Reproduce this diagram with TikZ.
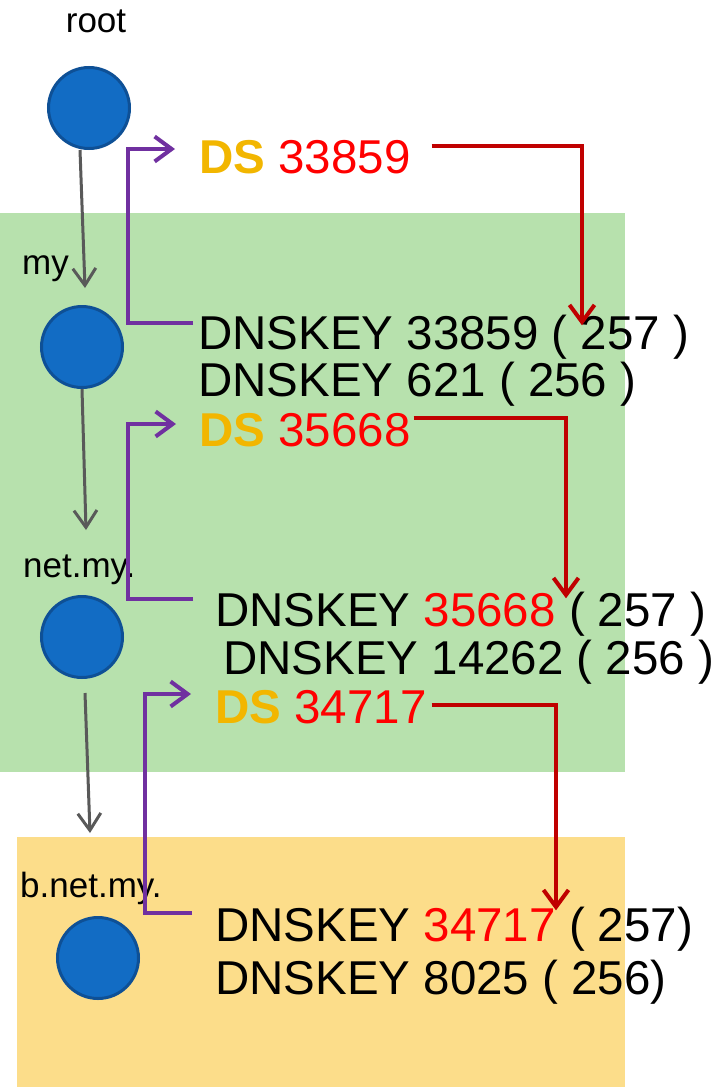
\documentclass[tikz,border=0pt]{standalone}
\usepackage{fontspec}
\setmainfont{Liberation Sans}
\usepackage{xcolor}
\usepackage{tikz}
\usetikzlibrary{arrows.meta,calc}
\definecolor{zonegreen}{RGB}{183,225,173}
\definecolor{zoneyellow}{RGB}{252,221,138}
\definecolor{nodeblue}{RGB}{18,108,196}
\definecolor{nodeedge}{RGB}{14,80,150}
\definecolor{chaingray}{RGB}{89,89,89}
\definecolor{signpurple}{RGB}{112,48,160}
\definecolor{hashred}{RGB}{192,0,0}
\definecolor{keyred}{RGB}{255,0,0}
\definecolor{dsgold}{RGB}{242,182,0}

\begin{document}
\begin{tikzpicture}[x=1pt, y=-1pt,
    zone/.style={circle, draw=nodeedge, fill=nodeblue, line width=3pt, minimum size=81pt, inner sep=0pt},
    zonename/.style={font=\fontsize{35}{40}\selectfont, inner sep=0pt, text height=18pt, text depth=0pt},
    rec/.style={font=\fontsize{47.5}{52}\selectfont, inner sep=0pt, anchor=west, text height=33pt, text depth=0pt},
    chain/.style={draw=chaingray, line width=3pt, -{Straight Barb[length=17pt, width=23pt]}},
    signs/.style={draw=signpurple, line width=4pt, -{Straight Barb[length=17pt, width=25pt]}},
    hashes/.style={draw=hashred, line width=4pt, -{Straight Barb[length=17pt, width=25pt]}}]
    \useasboundingbox (0,0) rectangle (716,1087);
    \fill[white] (0,0) rectangle (716,1087);

    % Zone backgrounds
    \fill[zonegreen] (0,213) rectangle (625,772);
    \fill[zoneyellow] (17,837) rectangle (625,1087);

    % Zone names and nodes
    \node[zonename] (nroot) at (96,23) {root};
    \node[zonename, anchor=west] (nmy) at (22,265) {my};
    \node[zonename, anchor=west] (nnet) at (23,568) {net.my.};
    \node[zonename, anchor=west] (nb) at (20,888) {b.net.my.};
    \node[zone] (c0) at (89,108) {};
    \node[zone] (c1) at (82,347) {};
    \node[zone] (c2) at (82,637) {};
    \node[zone] (c3) at (98,958) {};

    % Records
    \node[rec] (ds1) at (199,157) {\textbf{\color{dsgold}DS} \color{keyred}33859};
    \node[rec] (key1a) at (198,333) {DNSKEY 33859 ( 257 )};
    \node[rec] (key1b) at (198,380) {DNSKEY 621 ( 256 )};
    \node[rec] (ds2) at (199,430) {\textbf{\color{dsgold}DS} \color{keyred}35668};
    \node[rec] (key2a) at (215,610) {DNSKEY {\color{keyred}35668} ( 257 )};
    \node[rec] (key2b) at (223,658) {DNSKEY 14262 ( 256 )};
    \node[rec] (ds3) at (215,707) {\textbf{\color{dsgold}DS} \color{keyred}34717};
    \node[rec] (key3a) at (215,925) {DNSKEY {\color{keyred}34717} ( 257)};
    \node[rec] (key3b) at (215,978) {DNSKEY 8025 ( 256)};

    % Delegation chain
    \draw[chain] ($(c0.south)+(-9,0)$) -- ($(c1.north)+(3,-17)$);
    \draw[chain] (c1.south) -- ($(c2.north)+(4,-65)$);
    \draw[chain] ($(c2.south)+(3,14)$) -- ($(c3.north)+(-8,-83)$);

    % KSK signs DS
    \draw[signs] ([shift={(-5,-10)}]key1a.west) -- ++(-65,0) |- ([shift={(-24,-8)}]ds1.west);
    \draw[signs] ([shift={(-22,-11)}]key2a.west) -- ++(-65,0) |- ([shift={(-23,-6)}]ds2.west);
    \draw[signs] ([shift={(-23,-12)}]key3a.west) -- ++(-47,0) |- ([shift={(-24,-13)}]ds3.west);

    % DS hashes KSK
    \draw[hashes] ([shift={(21,-11)}]ds1.east) -| ($(key1a.north west)+(384,9)$);
    \draw[hashes] ([shift={(3,-12)}]ds2.east) -| ($(key2a.north west)+(351,5)$);
    \draw[hashes] ([shift={(5,-2)}]ds3.east) -| ($(key3a.north west)+(341,2)$);
\end{tikzpicture}
\end{document}
